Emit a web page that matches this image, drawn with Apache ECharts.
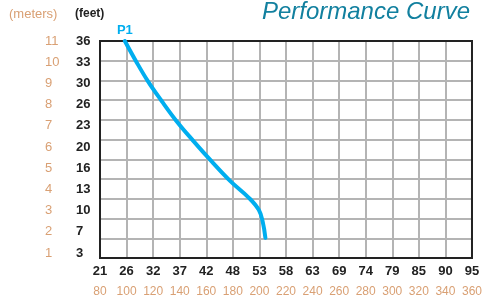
<!DOCTYPE html>
<html>
<head>
<meta charset="utf-8">
<script src="https://cdn.jsdelivr.net/npm/echarts@6/dist/echarts.min.js"></script>
<style>
html, body { margin: 0; padding: 0; background: #fff; }
#chart { width: 485px; height: 299px; }
</style>
</head>
<body>
<div id="chart"></div>
<script>
// flow (lpm) and head (meters)
var flowLpm = [98.7, 106.9, 115.9, 126.3, 137.5, 150.2, 163.7, 177.9, 192.1, 199.5, 202.5, 204.5];
var headM   = [11.0, 10.0, 8.98, 7.97, 6.95, 5.94, 4.92, 3.91, 3.05, 2.44, 1.83, 1.02];

// tick labels
var gpmLabels    = ['21', '26', '32', '37', '42', '48', '53', '58', '63', '69', '74', '79', '85', '90', '95'];
var meterLabels  = ['1', '2', '3', '4', '5', '6', '7', '8', '9', '10', '11'];
var feetLabels   = ['3', '7', '10', '13', '16', '20', '23', '26', '30', '33', '36'];

var orange = '#d9a074';
var font = 'Liberation Sans, Arial, sans-serif';

var myChart = echarts.init(document.getElementById('chart'));

var curve = flowLpm.map(function (x, i) {
    var item = { value: [x, headM[i]] };
    if (i === 0) {
        item.label = {
            show: true, position: 'top', distance: 4,
            formatter: 'P1', color: '#00aeef', fontWeight: 'bold',
            fontSize: 13, fontFamily: font
        };
    }
    return item;
});

var option = {
    animation: false,
    title: {
        text: 'Performance Curve',
        right: 10, top: -5,
        textStyle: { fontStyle: 'italic', fontWeight: 'normal', fontSize: 24, color: '#12809f', fontFamily: font }
    },
    graphic: [
        { type: 'text', left: 9, top: 8, style: { text: '(meters)', fill: orange, fontSize: 13, fontFamily: font } },
        { type: 'text', left: 75, top: 8, style: { text: '(feet)', fill: '#222', fontSize: 12, fontWeight: 'bold', fontFamily: font } }
    ],
    grid: [
        { left: 100, right: 10, top: 41, bottom: 41, show: true, borderColor: '#222', borderWidth: 2, z: 3 },
        { left: 100, right: 10, top: 41, bottom: 46 }
    ],
    xAxis: [
        {
            gridIndex: 0, type: 'value', min: 80, max: 360, interval: 20,
            axisLine: { show: false }, axisTick: { show: false },
            splitLine: { lineStyle: { color: '#b4b4b4', width: 2 } },
            axisLabel: {
                margin: 7, color: '#222', fontWeight: 'bold', fontSize: 13, fontFamily: font,
                formatter: function (v) { return gpmLabels[Math.round((v - 80) / 20)]; }
            }
        },
        {
            gridIndex: 0, type: 'value', min: 80, max: 360, interval: 20, position: 'bottom', offset: 21,
            axisLine: { show: false }, axisTick: { show: false }, splitLine: { show: false },
            axisLabel: { margin: 7, color: orange, fontSize: 12, fontFamily: font }
        },
        { gridIndex: 1, type: 'value', show: false }
    ],
    yAxis: [
        {
            gridIndex: 0, type: 'value', min: 0, max: 11, interval: 1,
            axisLine: { show: false }, axisTick: { show: false }, axisLabel: { show: false },
            splitLine: { lineStyle: { color: '#b4b4b4', width: 2 } }
        },
        {
            gridIndex: 1, type: 'category', data: meterLabels, boundaryGap: false, position: 'left',
            axisLine: { show: false }, axisTick: { show: false }, splitLine: { show: false },
            axisLabel: { align: 'left', margin: 55, color: orange, fontSize: 13, fontFamily: font }
        },
        {
            gridIndex: 1, type: 'category', data: feetLabels, boundaryGap: false, position: 'left',
            axisLine: { show: false }, axisTick: { show: false }, splitLine: { show: false },
            axisLabel: { align: 'left', margin: 24, color: '#222', fontWeight: 'bold', fontSize: 13, fontFamily: font }
        }
    ],
    series: [{
        name: 'P1',
        type: 'line',
        xAxisIndex: 0, yAxisIndex: 0,
        smooth: 0.4,
        symbol: 'circle',
        symbolSize: 0,
        showSymbol: true,
        lineStyle: { color: '#00aeef', width: 4, cap: 'round' },
        z: 5,
        data: curve
    }]
};

myChart.setOption(option);
</script>
</body>
</html>
